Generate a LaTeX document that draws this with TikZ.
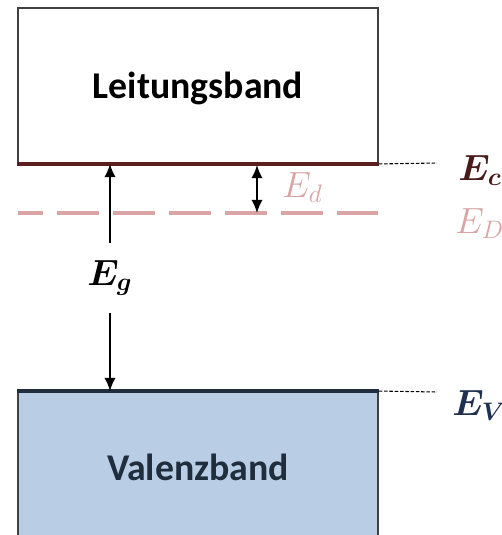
\documentclass[tikz,border=0pt]{standalone}
\usepackage{amsmath,amssymb,bm}
\usepackage{fontspec}
\setsansfont{Carlito}
\usepackage{xcolor}
\definecolor{cbred}{HTML}{5C1F1F}
\definecolor{ecred}{HTML}{4A1A1A}
\definecolor{donor}{HTML}{D8A4A4}
\definecolor{vbfill}{HTML}{B9CDE5}
\definecolor{vbline}{HTML}{1F2D3D}
\definecolor{evblue}{HTML}{1F3050}
\usepackage{tikz}
\usetikzlibrary{arrows.meta}

\begin{document}
\begin{tikzpicture}[
  x=0.02cm, y=-0.02cm,
  band/.style={draw=black!75, line width=1.1pt, minimum width=7.2cm, text depth=0pt,
               inner sep=0pt, font=\fontsize{21.5}{24}\selectfont\sffamily\bfseries},
  lvl/.style={line width=2.2pt},
  arr/.style={draw, line width=1.1pt, -{Latex[length=7.5pt,width=6.5pt]}},
  ref/.style={draw, line width=0.6pt, dash pattern=on 2pt off 1pt},
  elab/.style={anchor=base west, inner sep=0pt, font=\fontsize{20.74}{24}\selectfont},
]
\useasboundingbox (0,0) rectangle (502,535);
% --- Bands ---
\node[band, minimum height=3.1cm] (lb) at (198,85.5) {Leitungsband};
\node[band, fill=vbfill, text=vbline, minimum height=3cm] (vb) at (198,467) {Valenzband};
\draw[lvl, cbred] (lb.south west) -- (lb.south east);
\draw[lvl, vbline] (vb.north west) -- (vb.north east);
% --- Donor level ---
\coordinate (dl) at (18,213);
\coordinate (dr) at (378,213);
\draw[donor, line width=2pt, dash pattern=on 0.84cm off 0.28cm, dash phase=0.34cm] (dl) -- (dr);
% --- Level labels ---
\coordinate (ec) at (437,163);
\coordinate (ev) at (437,392);
\draw[ref] (lb.south east) -- (ec);
\draw[ref] (vb.north east) -- (ev);
\node[elab, text=ecred] (lc) at (458,180) {$\bm{E_c}$};
\node[elab, text=donor] (ld) at (455,233) {$E_D$};
\node[elab, text=evblue] (lv) at (452,415) {$\bm{E_V}$};
% --- Gap E_g ---
\node[font=\fontsize{20.74}{24}\selectfont, minimum height=1.4cm, inner sep=0pt] (eg) at (110,278) {$\bm{E_g}$};
\draw[arr] (eg.north) -- (eg.north |- lb.south);
\draw[arr] (eg.south) -- (eg.south |- vb.north);
% --- Ionisation E_d ---
\coordinate (dtop) at (257,165);
\coordinate (dbot) at (257,213);
\draw[arr, {Latex[length=7.5pt,width=6.5pt]}-{Latex[length=7.5pt,width=6.5pt]}] (dbot) -- (dtop);
\node[elab, text=donor] (ed) at (282,197) {$E_d$};
\end{tikzpicture}
\end{document}
